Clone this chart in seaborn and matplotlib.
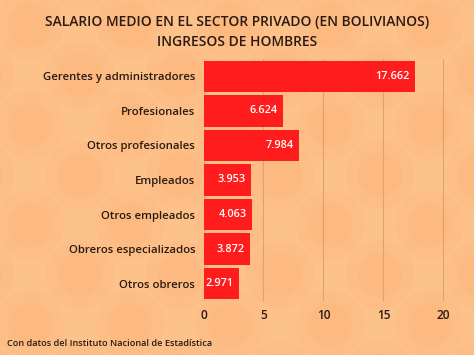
import matplotlib
matplotlib.use("Agg")
import matplotlib.pyplot as plt
import seaborn as sns
import pandas as pd
from matplotlib.patches import Circle

categories = ["Gerentes y administradores", "Profesionales", "Otros profesionales",
              "Empleados", "Otros empleados", "Obreros especializados", "Otros obreros"]
values = [17.662, 6.624, 7.984, 3.953, 4.063, 3.872, 2.971]
labels = ["17.662", "6.624", "7.984", "3.953", "4.063", "3.872", "2.971"]
xticks = [0, 5, 10, 15, 20]

sns.set_theme(style="white")
plt.rcParams['font.family'] = ['Open Sans', 'DejaVu Sans']

BG = "#FDC18A"
RED = "#FE1C1C"
TXT = "#2B1A12"

fig = plt.figure(figsize=(4.74, 3.55), dpi=100, facecolor=BG)

# decorative background circles
for cx in range(-20, 520, 100):
    for cy in range(-20, 400, 100):
        for ox, oy in [(0, 0), (50, 50)]:
            for r, c in [(34, "#FCBE86"), (22, "#FCBA80")]:
                fig.patches.append(Circle((cx + ox, cy + oy), r, transform=None,
                                          facecolor=c, edgecolor="none", zorder=-5))

ax = fig.add_axes([203.5 / 474, 1 - 301 / 355, 1 - 203.5 / 474, (301 - 59) / 355])
ax.set_facecolor("none")

df = pd.DataFrame({"cat": categories, "val": values})
sns.barplot(data=df, x="val", y="cat", color=RED, saturation=1, width=0.91, ax=ax,
            zorder=3, linewidth=0, edgecolor="none")

for p, lab in zip(ax.patches, labels):
    w = p.get_width()
    yc = p.get_y() + p.get_height() / 2
    ax.text(w - 0.45, yc, lab, color="white", ha="right", va="center", fontsize=7.8,
            fontweight="semibold", zorder=4)

ax.set_xlim(0, 22.55)
ax.set_ylim(6.5, -0.5)
ax.set_xticks(xticks)
ax.set_xticklabels([str(t) for t in xticks])
ax.grid(axis="x", color="#D9A373", linewidth=0.8, zorder=0)
ax.grid(axis="y", visible=False)
for s in ax.spines.values():
    s.set_visible(False)
ax.set_xlabel("")
ax.set_ylabel("")
ax.tick_params(axis="both", length=0, colors=TXT)
ax.tick_params(axis="y", pad=6, labelsize=8.2)
ax.tick_params(axis="x", pad=5.5, labelsize=8.6)
for t in ax.get_xticklabels() + ax.get_yticklabels():
    t.set_fontweight("semibold")

fig.text(0.5, 1 - 22 / 355, "SALARIO MEDIO EN EL SECTOR PRIVADO (EN BOLIVIANOS)",
         ha="center", va="center", fontsize=10, color=TXT, fontweight="semibold")
fig.text(0.5, 1 - 42 / 355, "INGRESOS DE HOMBRES",
         ha="center", va="center", fontsize=10, color=TXT, fontweight="semibold")
fig.text(7 / 474, 1 - 343 / 355, "Con datos del Instituto Nacional de Estadística",
         ha="left", va="center", fontsize=6.6, color=TXT, fontweight="semibold")

fig.savefig("out.png", dpi=100, facecolor=BG)
